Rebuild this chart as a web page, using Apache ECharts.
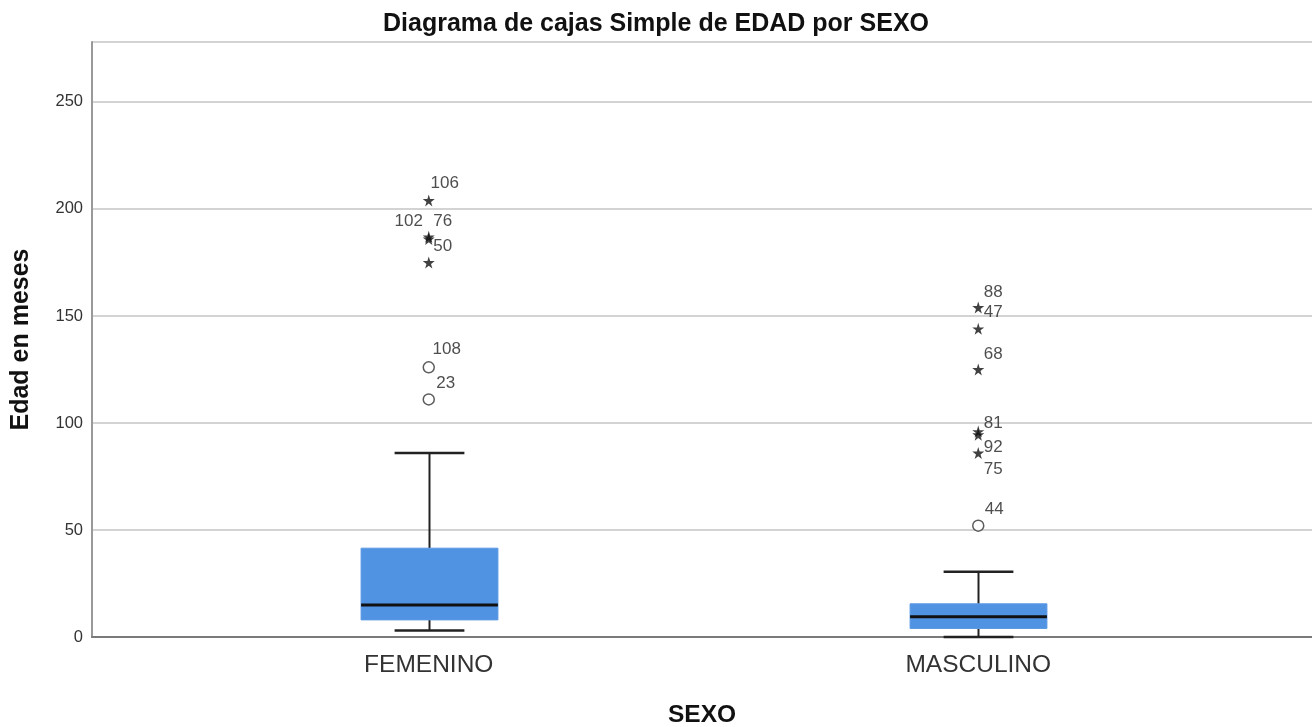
<!DOCTYPE html>
<html>
<head>
<meta charset="utf-8">
<title>Diagrama de cajas Simple de EDAD por SEXO</title>
<script src="https://cdn.jsdelivr.net/npm/echarts@6/dist/echarts.min.js"></script>
<style>
  html, body { margin: 0; padding: 0; background: #ffffff; }
  #chart { width: 1312px; height: 727px; }
</style>
</head>
<body>
<div id="chart"></div>
<script>
// Groups on the category axis
const categories = ['FEMENINO', 'MASCULINO'];

// Box summaries per group: [min whisker, Q1, median, Q3, max whisker] (months)
const femeninoBox = [3, 8, 15, 41.5, 86];
const masculinoBox = [0, 4, 9.5, 15.5, 30.5];

// Extreme values (stars) and outliers (circles), with case numbers
const femeninoExtremes = [204, 187, 186, 175];
const femeninoExtremeIds = ['106', '102', '76', '50'];
const femeninoOutliers = [126, 111];
const femeninoOutlierIds = ['108', '23'];

const masculinoExtremes = [154, 144, 125, 96, 94.5, 86];
const masculinoExtremeIds = ['88', '47', '68', '81', '92', '75'];
const masculinoOutliers = [52];
const masculinoOutlierIds = ['44'];

// Y axis ticks
const yTicks = [0, 50, 100, 150, 200, 250];

// Label placement for case numbers (pixels from the marker centre)
const femeninoExtremeLabelOffsets = [[16, -17], [-20, -15], [14, -18], [14, -16]];
const femeninoOutlierLabelOffsets = [[18, -18], [17, -16]];
const masculinoExtremeLabelOffsets = [[15, -15], [15, -16], [15, -15], [15, -8], [15, 13], [15, 16]];
const masculinoOutlierLabelOffsets = [[16, -16]];

const STAR = 'path://M50,0 L61,35 L98,35 L68,57 L79,91 L50,70 L21,91 L32,57 L2,35 L39,35 Z';
const TEXT = '#222222';
const FONT = '"Liberation Sans", Arial, sans-serif';

const boxData = [
  [0].concat(femeninoBox),
  [1].concat(masculinoBox)
];

function markers(catIndex, values, ids, offsets) {
  return values.map((v, i) => ({
    value: [catIndex, v],
    name: ids[i],
    label: { offset: offsets[i] }
  }));
}

const extremeData = markers(0, femeninoExtremes, femeninoExtremeIds, femeninoExtremeLabelOffsets)
  .concat(markers(1, masculinoExtremes, masculinoExtremeIds, masculinoExtremeLabelOffsets));
const outlierData = markers(0, femeninoOutliers, femeninoOutlierIds, femeninoOutlierLabelOffsets)
  .concat(markers(1, masculinoOutliers, masculinoOutlierIds, masculinoOutlierLabelOffsets));

function renderBox(params, api) {
  const idx = api.value(0);
  const low = api.coord([idx, api.value(1)]);
  const q1 = api.coord([idx, api.value(2)]);
  const med = api.coord([idx, api.value(3)]);
  const q3 = api.coord([idx, api.value(4)]);
  const high = api.coord([idx, api.value(5)]);
  const band = api.size([1, 0])[0];
  const bw = band * 0.249;
  const cw = bw * 0.51;
  const x = Math.round(low[0]) + 0.5;
  const whisker = { stroke: '#222222', lineWidth: 2 };
  return {
    type: 'group',
    children: [
      { type: 'line', shape: { x1: x, y1: high[1], x2: x, y2: q3[1] }, style: whisker },
      { type: 'line', shape: { x1: x, y1: low[1], x2: x, y2: q1[1] }, style: whisker },
      { type: 'line', shape: { x1: x - cw / 2, y1: high[1], x2: x + cw / 2, y2: high[1] }, style: { stroke: '#222222', lineWidth: 2.5 } },
      { type: 'line', shape: { x1: x - cw / 2, y1: low[1], x2: x + cw / 2, y2: low[1] }, style: { stroke: '#222222', lineWidth: 2.5 } },
      { type: 'rect', shape: { x: x - bw / 2, y: q3[1], width: bw, height: q1[1] - q3[1] }, style: { fill: '#5193e3', stroke: '#5a98e4', lineWidth: 1 } },
      { type: 'line', shape: { x1: x - bw / 2, y1: med[1], x2: x + bw / 2, y2: med[1] }, style: { stroke: '#111111', lineWidth: 3 } }
    ]
  };
}

const yMax = 278;
const gridTop = 42;
const gridBottom = 90;

const chart = echarts.init(document.getElementById('chart'), null, { renderer: 'canvas' });
chart.setOption({
  backgroundColor: '#ffffff',
  animation: false,
  textStyle: { fontFamily: FONT },
  title: {
    text: 'Diagrama de cajas Simple de EDAD por SEXO',
    left: 'center',
    top: 7,
    textStyle: { fontFamily: FONT, fontSize: 25, fontWeight: 'bold', color: '#111111' }
  },
  grid: [
    { left: 92, right: 0, top: gridTop, bottom: gridBottom, containLabel: false, outerBoundsMode: 'none' },
    { left: 154, right: 59, top: gridTop, bottom: gridBottom, containLabel: false, outerBoundsMode: 'none' }
  ],
  xAxis: [
    {
      gridIndex: 0,
      type: 'value',
      min: 0,
      max: 1,
      name: 'SEXO',
      nameLocation: 'middle',
      nameGap: 66,
      nameTextStyle: { fontFamily: FONT, fontSize: 24.5, fontWeight: 'bold', color: '#111111' },
      axisLine: { show: true, onZero: false, lineStyle: { color: '#7a7a7a', width: 2 } },
      axisTick: { show: false },
      axisLabel: { show: false },
      splitLine: { show: false }
    },
    {
      gridIndex: 1,
      type: 'category',
      data: categories,
      boundaryGap: true,
      axisLine: { show: false },
      axisTick: { show: false },
      axisLabel: { fontFamily: FONT, fontSize: 24.5, color: '#333333', margin: 16 },
      splitLine: { show: false }
    }
  ],
  yAxis: [
    {
      gridIndex: 0,
      type: 'value',
      min: 0,
      max: yMax,
      interval: 50,
      name: 'Edad en meses',
      nameLocation: 'middle',
      nameRotate: 90,
      nameGap: 58,
      nameTextStyle: { fontFamily: FONT, fontSize: 25, fontWeight: 'bold', color: '#111111' },
      axisLine: { show: true, lineStyle: { color: '#999999', width: 2 } },
      axisTick: { show: false },
      axisLabel: {
        fontFamily: FONT, fontSize: 16.5, color: '#333333', margin: 9,
        formatter: v => (yTicks.indexOf(v) >= 0 ? String(v) : '')
      },
      splitLine: { show: true, lineStyle: { color: '#d3d3d3', width: 2 } }
    },
    {
      gridIndex: 1,
      type: 'value',
      min: 0,
      max: yMax,
      show: false,
      splitLine: { show: false }
    }
  ],
  series: [
    {
      name: 'cajas',
      type: 'custom',
      xAxisIndex: 1,
      yAxisIndex: 1,
      renderItem: renderBox,
      encode: { x: 0, y: [1, 2, 3, 4, 5] },
      data: boxData,
      z: 3
    },
    {
      name: 'extremos',
      type: 'scatter',
      xAxisIndex: 1,
      yAxisIndex: 1,
      symbol: STAR,
      symbolSize: 12,
      itemStyle: { color: '#111111' },
      label: {
        show: true, position: 'inside', formatter: '{b}',
        fontFamily: FONT, fontSize: 17, color: TEXT
      },
      data: extremeData,
      z: 4
    },
    {
      name: 'atipicos',
      type: 'scatter',
      xAxisIndex: 1,
      yAxisIndex: 1,
      symbol: 'circle',
      symbolSize: 11,
      itemStyle: { color: '#ffffff', borderColor: '#333333', borderWidth: 1.5 },
      label: {
        show: true, position: 'inside', formatter: '{b}',
        fontFamily: FONT, fontSize: 17, color: TEXT
      },
      data: outlierData,
      z: 4
    }
  ]
});
</script>
</body>
</html>
